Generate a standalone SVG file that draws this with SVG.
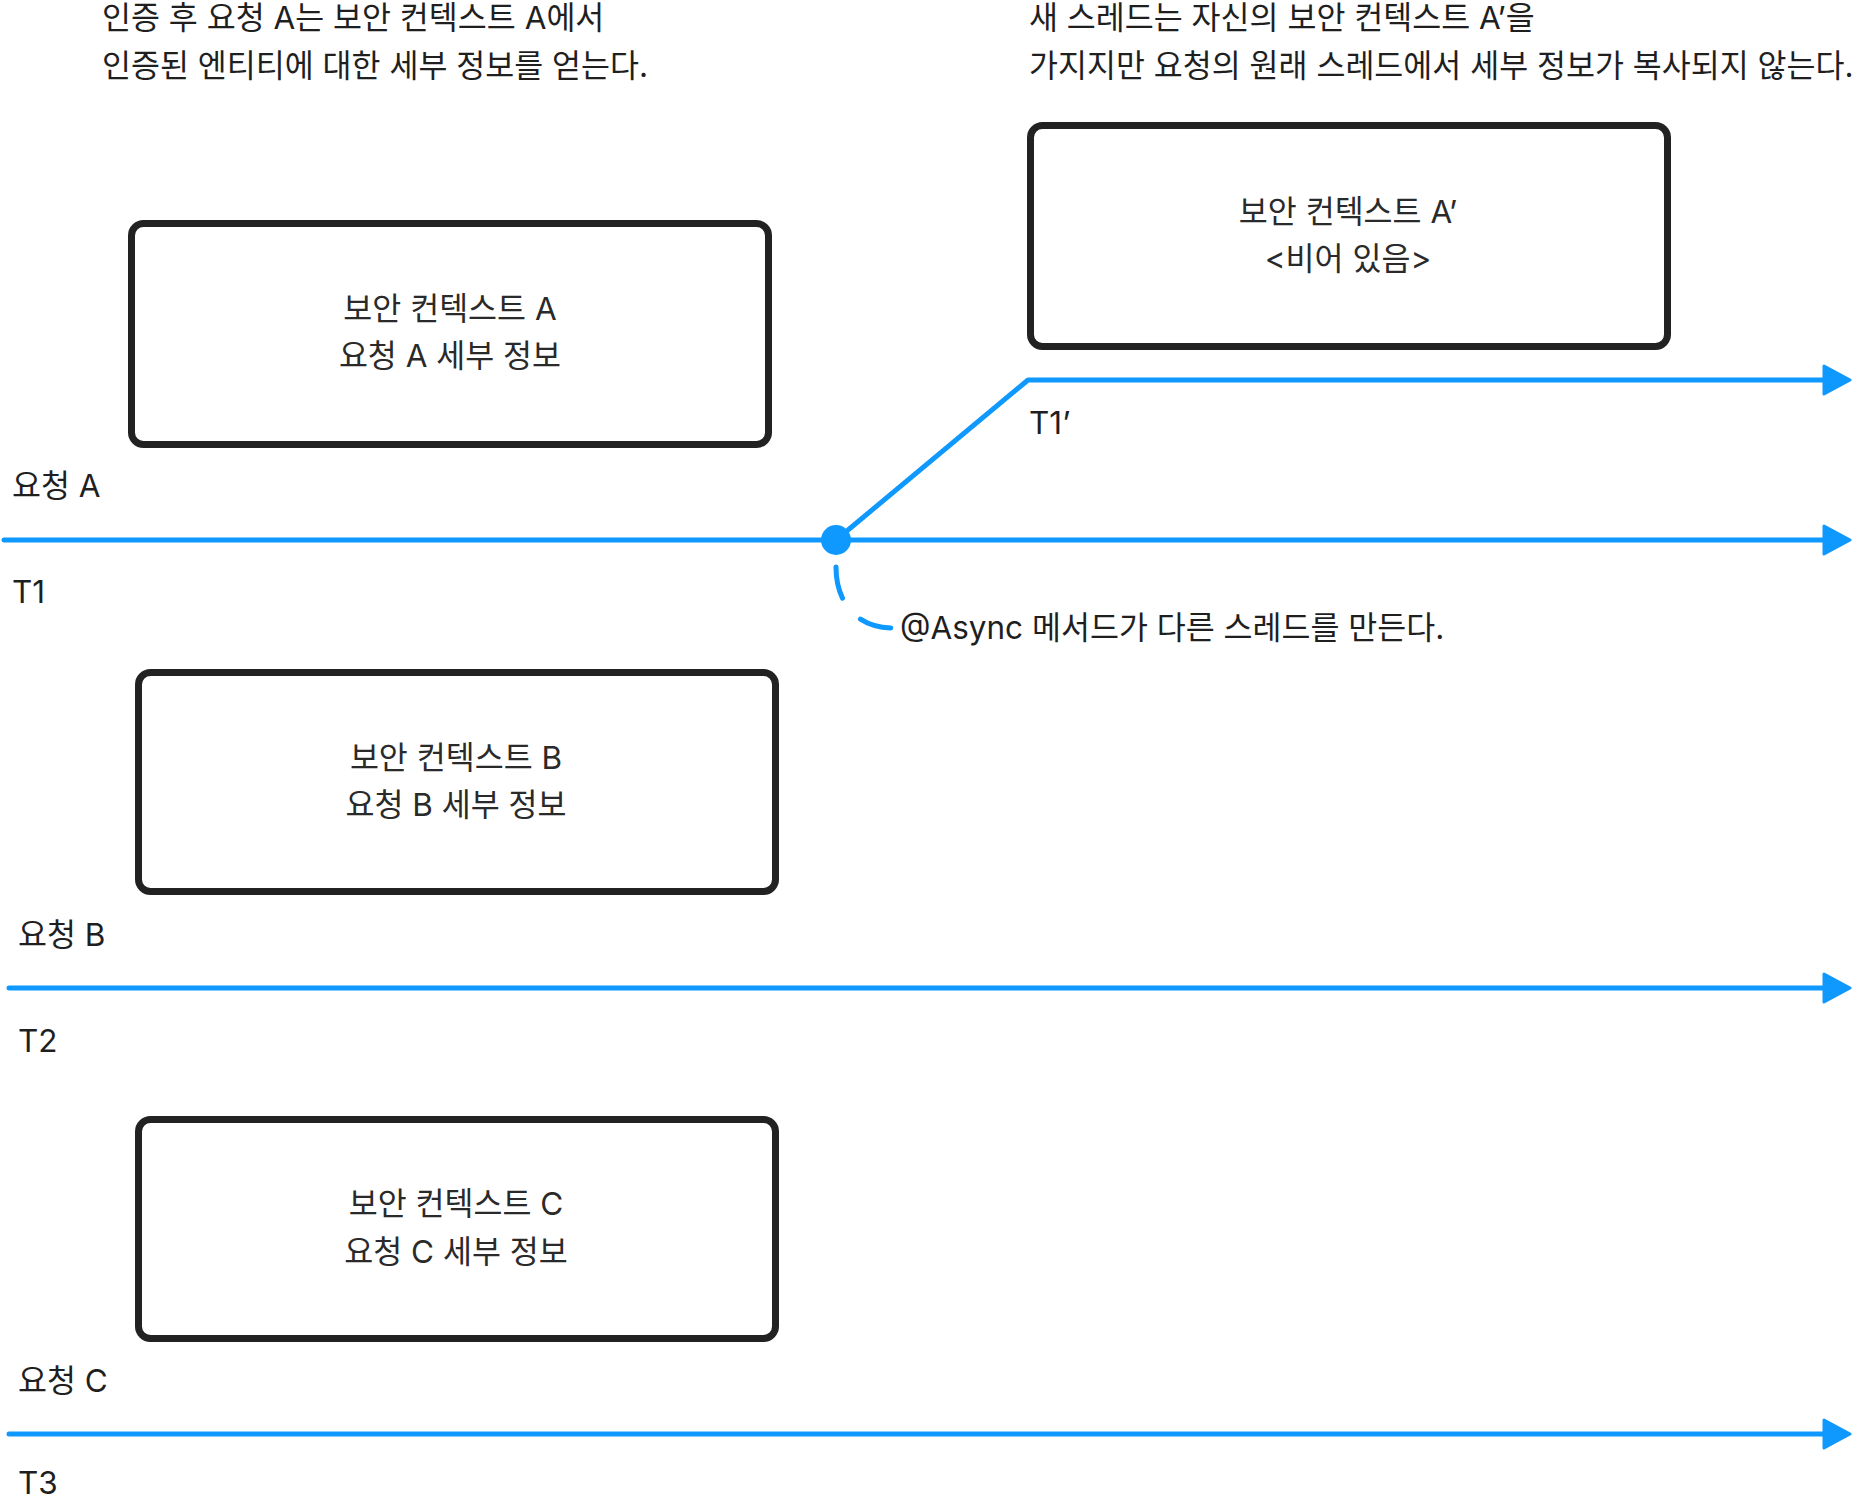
<svg xmlns="http://www.w3.org/2000/svg" width="1857" height="1499" viewBox="0 0 1857 1499">
<style>
text{font-family:Inter,"Noto Sans CJK KR","Noto Sans",sans-serif;fill:#1f1f1f;font-size:31.5px}
.c{text-anchor:middle;fill:#2a2a2a}
.box{fill:#fff;stroke:#222;stroke-width:7}
.ln{fill:none;stroke:#0f99ff;stroke-width:5;stroke-linecap:round;stroke-linejoin:round}
.dash{fill:none;stroke:#0f99ff;stroke-width:5;stroke-linecap:round;stroke-dasharray:32 28}
</style>
<defs>
<marker id="ah" markerUnits="userSpaceOnUse" viewBox="0 0 30 32" refX="9" refY="16" markerWidth="30" markerHeight="32" orient="auto">
<path d="M2,2 L28,16 L2,30 Z" fill="#0f99ff" stroke="#0f99ff" stroke-width="3" stroke-linejoin="round"/>
</marker>
</defs>
<rect width="1857" height="1499" fill="#fff"/>
<g id="notes">
<text x="102" y="29">인증 후 요청 A는 보안 컨텍스트 A에서</text>
<text x="102" y="77">인증된 엔티티에 대한 세부 정보를 얻는다.</text>
<text x="1029" y="29">새 스레드는 자신의 보안 컨텍스트 A’을</text>
<text x="1029" y="77">가지지만 요청의 원래 스레드에서 세부 정보가 복사되지 않는다.</text>
</g>
<g id="connectors">
<path class="ln" d="M4,540 L1831,540" marker-end="url(#ah)"/>
<path class="ln" d="M836,540 L1028,380 L1831,380" marker-end="url(#ah)"/>
<path class="ln" d="M9,988 L1831,988" marker-end="url(#ah)"/>
<path class="ln" d="M9,1434 L1831,1434" marker-end="url(#ah)"/>
<circle cx="836" cy="540" r="15" fill="#0f99ff"/>
<path class="dash" d="M836,567 C836,602 856,628 893,628"/>
</g>
<g id="ctxA">
<rect class="box" x="131.5" y="223.5" width="637" height="221" rx="12"/>
<text class="c" x="450" y="320">보안 컨텍스트 A</text>
<text class="c" x="450" y="367">요청 A 세부 정보</text>
</g>
<g id="ctxA2">
<rect class="box" x="1030.5" y="125.5" width="637" height="221" rx="12"/>
<text class="c" x="1348" y="223">보안 컨텍스트 A’</text>
<text class="c" x="1348" y="270">&lt;비어 있음&gt;</text>
</g>
<g id="ctxB">
<rect class="box" x="138.5" y="672.5" width="637" height="219" rx="12"/>
<text class="c" x="456" y="769">보안 컨텍스트 B</text>
<text class="c" x="456" y="816">요청 B 세부 정보</text>
</g>
<g id="ctxC">
<rect class="box" x="138.5" y="1119.5" width="637" height="219" rx="12"/>
<text class="c" x="456" y="1215">보안 컨텍스트 C</text>
<text class="c" x="456" y="1263">요청 C 세부 정보</text>
</g>
<g id="labels">
<text x="12" y="497">요청 A</text>
<text x="12" y="603">T1</text>
<text x="1029" y="434">T1’</text>
<text x="18" y="946">요청 B</text>
<text x="18" y="1052">T2</text>
<text x="18" y="1392">요청 C</text>
<text x="18" y="1494">T3</text>
<text x="900" y="639">@Async 메서드가 다른 스레드를 만든다.</text>
</g>
</svg>
